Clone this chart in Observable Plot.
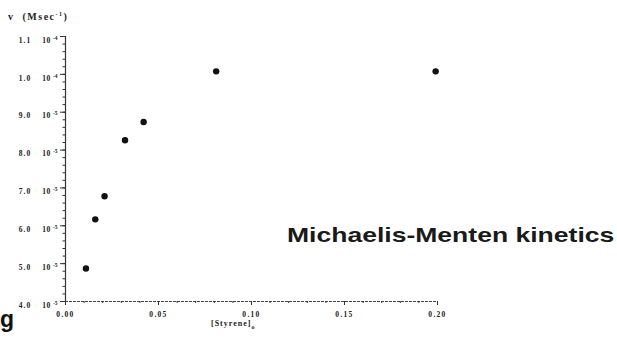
<!DOCTYPE html>
<html><head><meta charset="utf-8">
<script src="https://cdn.jsdelivr.net/npm/d3@7"></script>
<script src="https://cdn.jsdelivr.net/npm/@observablehq/plot@0.6"></script>
<style>
body{margin:0;background:#fff;}
#wrap{position:relative;width:617px;height:338px;overflow:hidden;background:#fff;}
#wrap svg{position:absolute;left:0;top:0;}
.lbl{position:absolute;white-space:nowrap;color:#222;}
#ylab{left:8px;top:11px;font:bold 10px "Liberation Serif",serif;letter-spacing:1.5px;}
#xlab{left:211px;top:319px;font:bold 8px "Liberation Serif",serif;letter-spacing:1px;}
#title{left:287px;top:223px;font:bold 20.5px "Liberation Sans",Arial,sans-serif;color:#1a1a1a;transform:scaleX(1.294);transform-origin:0 0;}
#g{left:0px;top:306px;font:bold 23px "Liberation Sans",Arial,sans-serif;color:#111;}
</style></head><body><div id="wrap">
<div class="lbl" id="ylab">v&nbsp;&nbsp;(Msec<sup style="font-size:6px">-1</sup>)</div>
<div class="lbl" id="xlab">[Styrene]<sub style="font-size:6px">o</sub></div>
<div class="lbl" id="title">Michaelis-Menten kinetics</div>
<div class="lbl" id="g">g</div>
</div>
<script>
const styrene = [0.011, 0.016, 0.021, 0.032, 0.042, 0.081, 0.199];
const rate = [4.87e-5, 6.17e-5, 6.78e-5, 8.26e-5, 8.74e-5, 1.008e-4, 1.008e-4];
const yTicks = [4e-5, 5e-5, 6e-5, 7e-5, 8e-5, 9e-5, 1.0e-4, 1.1e-4];
const yMantissa = ["4.0", "5.0", "6.0", "7.0", "8.0", "9.0", "1.0", "1.1"];
const yExponent = ["-5", "-5", "-5", "-5", "-5", "-5", "-4", "-4"];
const xTicks = [0, 0.05, 0.10, 0.15, 0.20];
const xTickLabels = ["0.00", "0.05", "0.10", "0.15", "0.20"];

const data = styrene.map((s, i) => ({s, v: rate[i]}));
const yMinor = d3.range(0, 36).map(i => 4e-5 + i * 2e-6).filter(v => v <= 1.1e-4 + 1e-12);
const xMinor = d3.range(0, 21).map(i => i * 0.01);
const tickFont = {fontFamily: "Liberation Serif, serif", fontSize: 7.5, fontWeight: "bold"};

const chart = Plot.plot({
  width: 617,
  height: 338,
  marginLeft: 65,
  marginRight: 180,
  marginTop: 36,
  marginBottom: 37,
  style: {background: "transparent", color: "#222"},
  x: {domain: [0, 0.2]},
  y: {domain: [4e-5, 1.1e-4]},
  marks: [
    Plot.ruleX([0], {stroke: "#333", strokeWidth: 1.2}),
    Plot.ruleY([4e-5], {stroke: "#444", strokeWidth: 1.2, strokeDasharray: "3,1"}),
    Plot.axisY(yMinor, {tickSize: 2.5, stroke: "#333", label: null, tickFormat: () => ""}),
    Plot.axisY(yTicks, {tickSize: 5, tickPadding: 3, stroke: "#333", label: null,
      tickFormat: (d) => "YT" + yTicks.indexOf(d), ...tickFont}),
    Plot.axisX(xMinor, {tickSize: 2, stroke: "#333", label: null, tickFormat: () => ""}),
    Plot.axisX(xTicks, {tickSize: 4, tickPadding: 6, stroke: "#333", label: null,
      tickFormat: (d) => xTickLabels[xTicks.indexOf(d)], ...tickFont}),
    Plot.dot(data, {x: "s", y: "v", r: 3.2, fill: "#111", stroke: "none"})
  ]
});
// rich y tick labels: mantissa, "10", superscript exponent
d3.select(chart).selectAll("text").each(function() {
  const t = this.textContent;
  if (t.startsWith("YT")) {
    const i = +t.slice(2);
    const sel = d3.select(this);
    sel.text("").attr("dy", "0.5em");
    sel.append("tspan").style("letter-spacing", "1px").text(yMantissa[i]);
    sel.append("tspan").attr("dx", 11).style("letter-spacing", "0.6px").text("10");
    sel.append("tspan").attr("dx", 2).attr("dy", -3).attr("font-size", 5.5).text(yExponent[i]);
  }
});
d3.select(chart).selectAll("text").filter(function() { return xTickLabels.includes(this.textContent); })
  .style("letter-spacing", "1.3px");
document.getElementById("wrap").prepend(chart);
</script>
</body></html>
